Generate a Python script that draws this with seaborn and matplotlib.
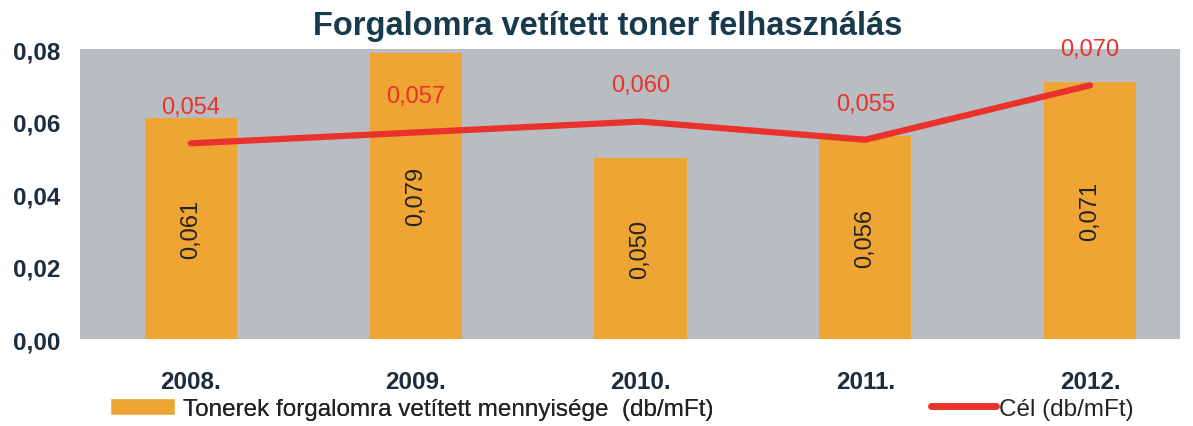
import matplotlib.pyplot as plt
import numpy as np
import seaborn as sns
from matplotlib.lines import Line2D
from matplotlib.patches import Patch


years = ['2008.', '2009.', '2010.', '2011.', '2012.']
toner = [0.061, 0.079, 0.050, 0.056, 0.071]
cel = [0.054, 0.057, 0.060, 0.055, 0.070]
y_ticks = [0.00, 0.02, 0.04, 0.06, 0.08]

title = 'Forgalomra vetített toner felhasználás'
toner_label = 'Tonerek forgalomra vetített mennyisége  (db/mFt)'
cel_label = 'Cél (db/mFt)'

BAR_COLOR = '#eea534'
LINE_COLOR = '#e8322b'
BG_COLOR = '#b9bdc1'
NAVY = '#1b2d3f'


def fmt(v: float, digits: int = 3) -> str:
  return f'{v:.{digits}f}'.replace('.', ',')


sns.set_theme(style='white')
plt.rcParams['font.family'] = ['Liberation Sans', 'DejaVu Sans']

fig = plt.figure(figsize=(11.93, 4.27), dpi=100)
ax = fig.add_axes([0.067, 0.2037, 0.922, 0.679])
ax.set_facecolor(BG_COLOR)

sns.barplot(x=years, y=toner, color=BAR_COLOR, saturation=1, width=0.41,
            linewidth=0, edgecolor=BAR_COLOR, ax=ax)
sns.lineplot(x=np.arange(len(years)), y=cel, color=LINE_COLOR, lw=4.5, ax=ax)

# value labels: rotated inside the bars, red above the target line
for i, v in enumerate(toner):
  ax.text(i, v / 2, fmt(v), rotation=90, ha='center', va='center',
          fontsize=17, color='#222222')
for i, c in enumerate(cel):
  ax.annotate(fmt(c), (i, c), xytext=(0, 26), textcoords='offset points',
              ha='center', va='center', fontsize=17, color=LINE_COLOR)

ax.set_xlim(-0.494, 4.40)
ax.set_ylim(0, 0.08)
ax.set_yticks(y_ticks)
ax.set_yticklabels([fmt(t, 2) for t in y_ticks])
ax.set_xlabel('')
ax.set_ylabel('')
for lbl in ax.get_xticklabels() + ax.get_yticklabels():
  lbl.set_fontweight('bold')
  lbl.set_color(NAVY)
  lbl.set_fontsize(17.5)
ax.tick_params(axis='x', pad=22, length=0)
ax.tick_params(axis='y', pad=14, length=0)
for s in ax.spines.values():
  s.set_visible(False)

fig.text(0.509, 0.937, title, ha='center', va='center', fontsize=23.5,
         fontweight='bold', color='#173a4c')

leg1 = fig.legend(handles=[Patch(facecolor=BAR_COLOR, label=toner_label)],
                  loc='center left', bbox_to_anchor=(0.092, 0.04), frameon=False,
                  fontsize=17.5, handlelength=2.7, handleheight=0.7,
                  handletextpad=0.3, borderpad=0, borderaxespad=0)
for t in leg1.get_texts():
  t.set_color('#222222')
leg2 = fig.legend(handles=[Line2D([], [], color=LINE_COLOR, lw=5, label=cel_label)],
                  loc='center left', bbox_to_anchor=(0.78, 0.04), frameon=False,
                  fontsize=17.5, handlelength=2.7, handletextpad=0.1,
                  borderpad=0, borderaxespad=0)
for t in leg2.get_texts():
  t.set_color('#222222')
fig.add_artist(leg1)

fig.savefig('out.png', dpi=100)
